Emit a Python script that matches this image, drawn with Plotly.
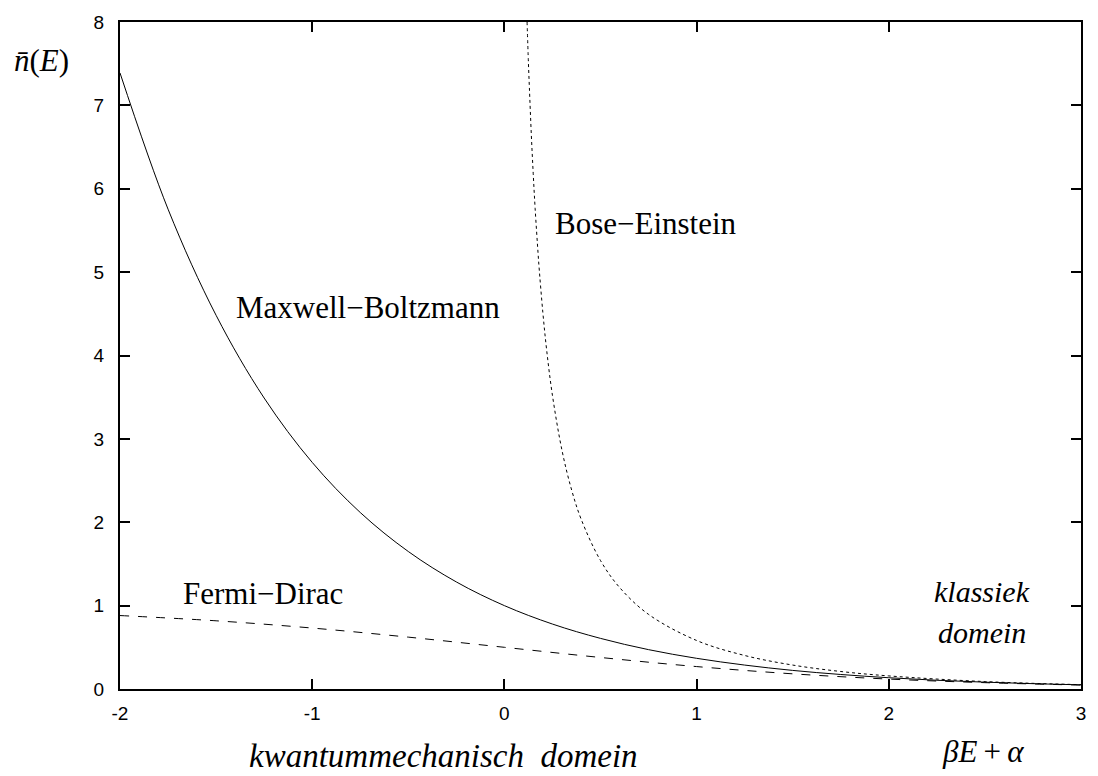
import plotly.graph_objects as go

# Maxwell-Boltzmann (solid)
mb_x = [-2.0, -1.75, -1.5, -1.25, -1.0, -0.75, -0.5, -0.25, 0.0, 0.25, 0.5, 0.75,
        1.0, 1.25, 1.5, 1.75, 2.0, 2.25, 2.5, 2.75, 3.0]
mb_y = [7.389, 5.755, 4.482, 3.490, 2.718, 2.117, 1.649, 1.284, 1.000, 0.779, 0.607, 0.472,
        0.368, 0.287, 0.223, 0.174, 0.135, 0.105, 0.082, 0.064, 0.050]

# Fermi-Dirac (dashed)
fd_x = [-2.0, -1.5, -1.0, -0.5, 0.0, 0.5, 1.0, 1.5, 2.0, 2.5, 3.0]
fd_y = [0.881, 0.818, 0.731, 0.622, 0.500, 0.378, 0.269, 0.182, 0.119, 0.076, 0.047]

# Bose-Einstein (dotted)
be_x = [0.118, 0.125, 0.13, 0.14, 0.15, 0.16, 0.175, 0.18, 0.2, 0.22, 0.25, 0.3, 0.35,
        0.4, 0.5, 0.6, 0.75, 1.0, 1.25, 1.5, 1.75, 2.0, 2.5, 3.0]
be_y = [8.0, 7.51, 7.21, 6.65, 6.18, 5.76, 5.23, 5.07, 4.517, 4.063, 3.521, 2.858, 2.386,
        2.033, 1.541, 1.216, 0.895, 0.582, 0.402, 0.287, 0.210, 0.157, 0.089, 0.052]

x_ticks = [-2, -1, 0, 1, 2, 3]
y_ticks = [0, 1, 2, 3, 4, 5, 6, 7, 8]

fig = go.Figure()
fig.add_trace(go.Scatter(x=mb_x, y=mb_y, mode="lines",
                         line=dict(color="black", width=1, shape="spline"), showlegend=False))
fig.add_trace(go.Scatter(x=fd_x, y=fd_y, mode="lines",
                         line=dict(color="black", width=1, dash="dash", shape="spline"), showlegend=False))
fig.add_trace(go.Scatter(x=be_x, y=be_y, mode="lines",
                         line=dict(color="black", width=1, dash="dot", shape="spline"), showlegend=False))

serif = "Liberation Serif"
sans = "Liberation Sans"

ann = [
    dict(x=0.739, y=5.588, text="Bose\u2212Einstein", xref="x", yref="y", size=31),
    dict(x=-0.709, y=4.575, text="Maxwell\u2212Boltzmann", xref="x", yref="y", size=31),
    dict(x=-1.258, y=1.15, text="Fermi\u2212Dirac", xref="x", yref="y", size=31),
    dict(x=2.487, y=1.173, text="<i>klassiek</i>", xref="x", yref="y", size=30),
    dict(x=2.487, y=0.676, text="<i>domein</i>", xref="x", yref="y", size=30),
    dict(x=0.337, y=-0.1007, xref="paper", yref="paper",
         text="<i>kwantummechanisch\u00a0\u00a0domein</i>", size=33),
    dict(x=0.898, y=-0.0933, xref="paper", yref="paper",
         text="<i>\u03b2E</i>\u2009+\u2009<i>\u03b1</i>", size=31),
    dict(x=-0.082, y=0.942, xref="paper", yref="paper",
         text="<i>n\u0304</i>(<i>E</i>)", size=31),
]
annotations = []
for a in ann:
    size = a.pop("size")
    a.update(showarrow=False, font=dict(family=serif, size=size, color="black"),
             xanchor="center", yanchor="middle")
    annotations.append(a)

fig.update_layout(
    width=1098, height=776,
    margin=dict(l=120, r=14, t=14, b=87),
    plot_bgcolor="white", paper_bgcolor="white",
    annotations=annotations,
    xaxis=dict(range=[-2, 3], tickvals=x_ticks, ticktext=[str(v) for v in x_ticks],
               ticks="inside", ticklen=10, tickwidth=1.5, tickcolor="black",
               showline=True, linecolor="black", linewidth=2, mirror="ticks",
               showgrid=False, zeroline=False, ticklabelstandoff=6,
               tickfont=dict(family=sans, size=19, color="black")),
    yaxis=dict(range=[0, 8], tickvals=y_ticks, ticktext=[str(v) for v in y_ticks],
               ticks="inside", ticklen=10, tickwidth=1.5, tickcolor="black",
               showline=True, linecolor="black", linewidth=2, mirror="ticks",
               showgrid=False, zeroline=False, ticklabelstandoff=10,
               tickfont=dict(family=sans, size=19, color="black")),
)

fig.write_html("out.html")
